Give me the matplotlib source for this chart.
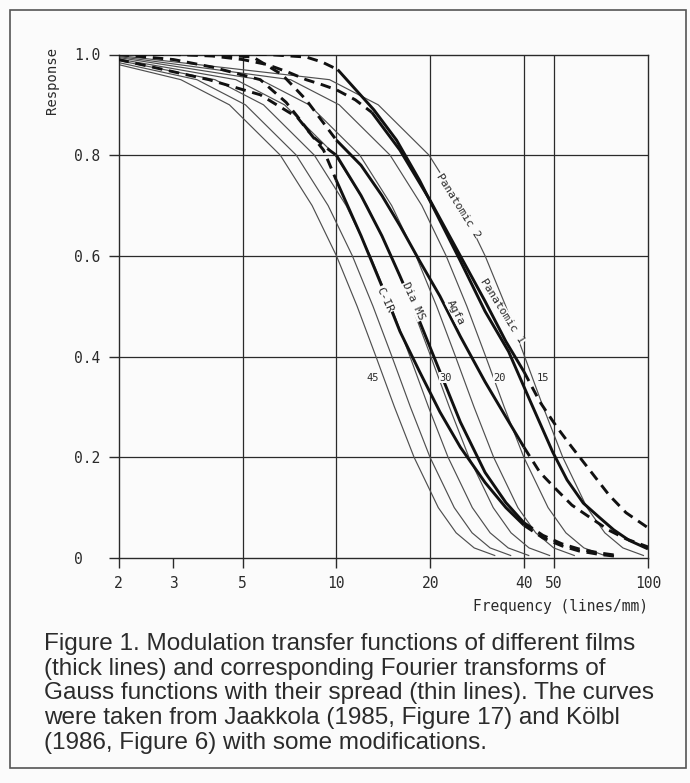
import matplotlib.pyplot as plt
import numpy as np
from matplotlib.patches import Rectangle

# thin lines: Gauss transforms (spread 45, 40, 35, 30, 25, 20, 15),
# frequency where each one crosses the response levels
thin_levels = [0.95, 0.9, 0.8, 0.7, 0.6, 0.5, 0.4, 0.3, 0.2, 0.1, 0.05, 0.02, 0.005]
thin_f = [
    [3.17, 4.54, 6.61, 8.36, 10.01, 11.66, 13.40, 15.36, 17.76, 21.24, 24.23, 27.69, 32.23],
    [3.57, 5.11, 7.44, 9.41, 11.26, 13.11, 15.08, 17.28, 19.98, 23.90, 27.26, 31.15, 36.25],
    [4.08, 5.84, 8.50, 10.75, 12.86, 14.99, 17.23, 19.75, 22.83, 27.31, 31.15, 35.60, 41.43],
    [4.76, 6.82, 9.92, 12.54, 15.01, 17.48, 20.10, 23.04, 26.64, 31.87, 36.35, 41.54, 48.34],
    [5.71, 8.18, 11.90, 15.05, 18.01, 20.98, 24.12, 27.65, 31.97, 38.24, 43.62, 49.84, 58.01],
    [7.13, 10.22, 14.88, 18.81, 22.51, 26.23, 30.15, 34.56, 39.96, 47.80, 54.52, 62.30, 72.51],
    [9.51, 13.63, 19.84, 25.08, 30.02, 34.97, 40.20, 46.09, 53.28, 63.73, 72.69, 83.07, 96.68],
]
thin_r_at2 = [0.980, 0.984, 0.988, 0.991, 0.994, 0.996, 0.998]

spread_labels = ["45", "30", "20", "15"]
spread_f = [13.1, 22.4, 33.4, 46.0]

# thick lines: measured part (solid)
pan2_f = [10.1, 13.2, 15.6, 18.5, 21.5, 25, 30, 35.7, 42, 49.5, 55, 62, 70, 77.6, 87, 100]
pan2_r = [0.97, 0.89, 0.83, 0.75, 0.67, 0.59, 0.49, 0.41, 0.31, 0.21, 0.155, 0.109, 0.08, 0.056, 0.035, 0.018]
pan1_f = [13, 16, 20, 25, 30, 35, 40]
pan1_r = [0.885, 0.81, 0.71, 0.60, 0.51, 0.43, 0.37]
agfa_f = [10, 12, 14, 16, 18.5, 21.5, 25, 30, 35, 40]
agfa_r = [0.83, 0.78, 0.72, 0.66, 0.59, 0.52, 0.44, 0.35, 0.28, 0.22]
dia_f = [10, 12, 14, 16, 18.5, 21.5, 25, 30, 35, 40]
dia_r = [0.80, 0.72, 0.64, 0.56, 0.47, 0.37, 0.27, 0.17, 0.11, 0.07]
cir_f = [10, 12, 14, 16, 18.5, 21.5, 25, 30, 35, 40]
cir_r = [0.75, 0.64, 0.54, 0.45, 0.37, 0.29, 0.22, 0.15, 0.10, 0.065]

# thick lines: extrapolated parts (dashed)
pan2_lo_f = [2, 4, 6, 8, 9, 10.1]
pan2_lo_r = [1.0, 1.0, 1.0, 0.995, 0.985, 0.97]
pan1_lo_f = [2, 3, 4, 5, 6, 7, 8, 9, 10, 11.5, 13]
pan1_lo_r = [1.0, 1.0, 0.997, 0.99, 0.98, 0.965, 0.95, 0.94, 0.93, 0.91, 0.885]
pan1_hi_f = [40, 45, 51, 57, 64, 75, 85, 100]
pan1_hi_r = [0.37, 0.31, 0.26, 0.22, 0.18, 0.125, 0.09, 0.06]
agfa_lo_f = [2, 4, 5.4, 6.7, 8, 10]
agfa_lo_r = [1.0, 1.0, 0.995, 0.96, 0.91, 0.83]
agfa_hi_f = [40, 45, 51, 57, 64.6, 75, 85, 100]
agfa_hi_r = [0.22, 0.17, 0.135, 0.105, 0.082, 0.055, 0.038, 0.022]
dia_lo_f = [2, 3, 4, 5.7, 6.9, 7.5, 8.4, 9.5, 10]
dia_lo_r = [1.0, 0.99, 0.975, 0.95, 0.905, 0.877, 0.837, 0.81, 0.80]
dia_hi_f = [40, 46, 53, 60, 70, 80]
dia_hi_r = [0.07, 0.045, 0.028, 0.018, 0.01, 0.005]
cir_lo_f = [2, 3.9, 5.7, 7.5, 9.1, 10]
cir_lo_r = [0.99, 0.95, 0.92, 0.875, 0.81, 0.75]
cir_hi_f = [40, 46, 53, 60, 70, 80]
cir_hi_r = [0.065, 0.04, 0.024, 0.014, 0.007, 0.003]

xticks = [2, 3, 5, 10, 20, 40, 50, 100]
xgrid = [5, 10, 20, 40, 50]
yticks = [0, 0.2, 0.4, 0.6, 0.8, 1.0]
ytick_labels = ["0  ", "0.2", "0.4", "0.6", "0.8", "1.0"]

caption = ("Figure 1. Modulation transfer functions of different films\n"
           "(thick lines) and corresponding Fourier transforms of\n"
           "Gauss functions with their spread (thin lines). The curves\n"
           "were taken from Jaakkola (1985, Figure 17) and Kölbl\n"
           "(1986, Figure 6) with some modifications.")

mono = "DejaVu Sans Mono"
ink = "#2a2a2a"
bg = "#fbfbfb"

fig = plt.figure(figsize=(6.9, 7.83), dpi=100)
fig.patch.set_facecolor(bg)
ax = fig.add_axes([118.5/690, 1-558/783, (648-118.5)/690, (558-54.5)/783])
ax.set_facecolor(bg)
ax.set_xscale("log")
ax.set_xlim(2, 100)
ax.set_ylim(0, 1.0)

for g in xgrid:
    ax.axvline(g, color=ink, lw=0.9, zorder=1)
for g in yticks[1:-1]:
    ax.axhline(g, color=ink, lw=0.9, zorder=1)

# thin Gauss curves
for fs, r2 in zip(thin_f, thin_r_at2):
    ax.plot([2] + fs, [r2] + thin_levels, color="#4f4f4f", lw=0.85, zorder=2)

# thick film curves
for fs, rs in [(pan2_f, pan2_r), (pan1_f, pan1_r), (agfa_f, agfa_r), (dia_f, dia_r), (cir_f, cir_r)]:
    ax.plot(fs, rs, color="#111111", lw=2.1, zorder=3, solid_capstyle="butt")
for fs, rs in [(pan2_lo_f, pan2_lo_r), (pan1_lo_f, pan1_lo_r), (pan1_hi_f, pan1_hi_r),
               (agfa_lo_f, agfa_lo_r), (agfa_hi_f, agfa_hi_r), (dia_lo_f, dia_lo_r),
               (dia_hi_f, dia_hi_r), (cir_lo_f, cir_lo_r), (cir_hi_f, cir_hi_r)]:
    ax.plot(fs, rs, color="#111111", lw=2.1, ls=(0, (3.6, 2.3)), zorder=3)

for lab, fx in zip(spread_labels, spread_f):
    ax.text(fx, 0.358, lab, fontsize=7.5, family=mono, ha="center", va="center",
            color=ink, zorder=4, bbox=dict(fc=bg, ec="none", pad=0.5))

lab_kw = dict(fontsize=8, family=mono, ha="center", va="center", color=ink, zorder=4,
              bbox=dict(fc=bg, ec="none", pad=0.3))
ax.text(24.6, 0.70, "Panatomic 2", rotation=-58, **lab_kw)
ax.text(34.0, 0.49, "Panatomic 1", rotation=-58, **lab_kw)
ax.text(24.2, 0.487, "Agfa", rotation=-62, **lab_kw)
ax.text(17.7, 0.51, "Dia MS", rotation=-65, **lab_kw)
ax.text(14.3, 0.513, "C-IR", rotation=-65, **lab_kw)

for s in ax.spines.values():
    s.set_color(ink)
    s.set_linewidth(1.0)

ax.set_xticks(xticks)
ax.set_xticklabels([str(t) for t in xticks], family=mono, fontsize=10.5, color=ink)
ax.minorticks_off()
ax.set_yticks(yticks)
ax.set_yticklabels(ytick_labels, family=mono, fontsize=10.5, color=ink)
ax.tick_params(length=7, width=1.0, color=ink, pad=6)

fig.text(648/690, 1-606/783, "Frequency (lines/mm)", family=mono, fontsize=10.5,
         ha="right", va="center", color=ink)
fig.text(52/690, 1-80/783, "Response", family=mono, fontsize=10, rotation=90,
         ha="center", va="center", color=ink)

fig.text(44/690, 1-633/783, caption, fontsize=17.5, family="Liberation Sans",
         ha="left", va="top", color="#2b2b2b", linespacing=1.16)

fig.patches.append(Rectangle((10/690, 15/783), 676/690, 758/783, transform=fig.transFigure,
                             fill=False, edgecolor="#555555", lw=1.2))

fig.savefig("out.png", dpi=100, facecolor=fig.get_facecolor())
